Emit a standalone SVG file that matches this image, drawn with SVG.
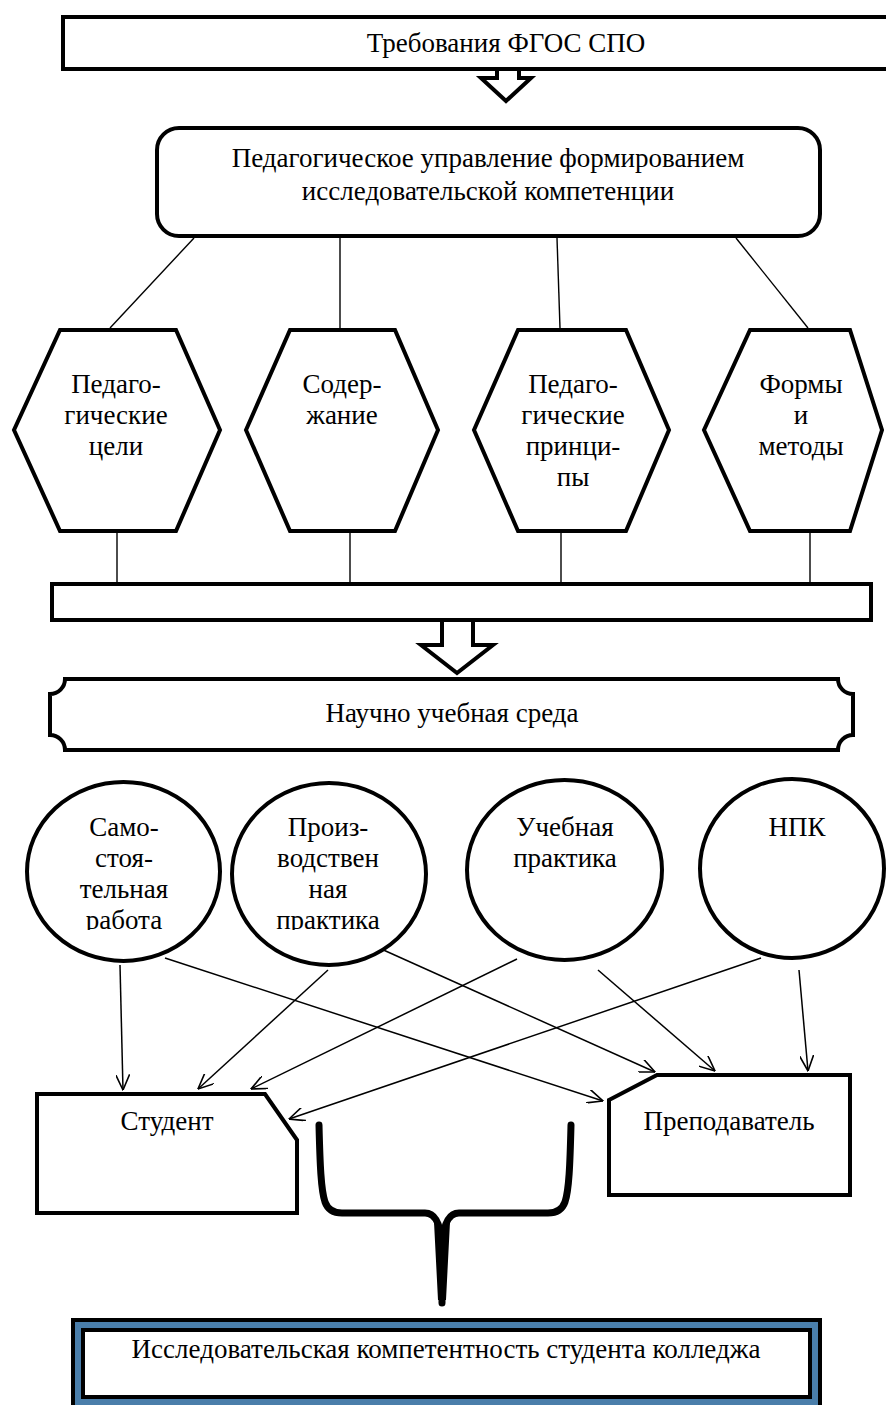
<svg xmlns="http://www.w3.org/2000/svg" width="886" height="1405" viewBox="0 0 886 1405" font-family="'Liberation Serif', 'DejaVu Serif', serif">
<style>
  text { font-family: 'Liberation Serif', 'DejaVu Serif', serif; font-size: 27px; fill: #000; text-anchor: middle; }
  .box { fill: #fff; stroke: #000; stroke-width: 4; stroke-linejoin: miter; }
  .thin { fill: none; stroke: #000; stroke-width: 1.4; }
  .arr { fill: none; stroke: #000; stroke-width: 1.5; marker-end: url(#v); }
</style>
<defs>
  <marker id="v" viewBox="0 0 16 14" refX="15.5" refY="7" markerWidth="16" markerHeight="14" markerUnits="userSpaceOnUse" orient="auto">
    <path d="M0,0 L15.5,7 L0,14" fill="none" stroke="#000" stroke-width="1.6"/>
  </marker>
  <clipPath id="cut"><rect x="0" y="0" width="886" height="930"/></clipPath>
</defs>
<rect width="886" height="1405" fill="#fff"/>

<g id="connectors">
  <path class="box" d="M497,69 V78 H481 L506,101 L531,78 H519 V69"/>
  <line class="thin" x1="194" y1="238" x2="110" y2="328"/>
  <line class="thin" x1="340" y1="238" x2="340" y2="328"/>
  <line class="thin" x1="557" y1="238" x2="560" y2="328"/>
  <line class="thin" x1="736" y1="238" x2="808" y2="328"/>
  <line class="thin" x1="117" y1="533" x2="117" y2="582"/>
  <line class="thin" x1="350" y1="533" x2="350" y2="582"/>
  <line class="thin" x1="561" y1="533" x2="561" y2="582"/>
  <line class="thin" x1="810" y1="533" x2="810" y2="582"/>
  <path class="box" d="M442,620 V645 H421 L457,673 L493,645 H473 V620"/>
  <line class="arr" x1="120" y1="965" x2="123" y2="1090"/>
  <line class="arr" x1="165" y1="958" x2="603" y2="1101"/>
  <line class="arr" x1="328" y1="970" x2="198" y2="1089"/>
  <line class="arr" x1="379" y1="948" x2="655" y2="1072"/>
  <line class="arr" x1="517" y1="959" x2="251" y2="1089"/>
  <line class="arr" x1="598" y1="970" x2="715" y2="1071"/>
  <line class="arr" x1="761" y1="958" x2="289" y2="1119"/>
  <line class="arr" x1="799" y1="970" x2="808" y2="1071"/>
  <path d="M319,1125 C320,1165 321,1190 325,1202 Q329,1213 342,1213 H425 Q440,1213 442,1245 V1303 M571,1125 C570,1165 569,1190 565,1202 Q561,1213 548,1213 H459 Q444,1213 442,1245" fill="none" stroke="#000" stroke-width="7" stroke-linecap="round" stroke-linejoin="round"/>
  <path d="M434,1222 Q442,1232 450,1222 L446,1300 L438,1300 Z" fill="#000"/>
</g>

<g id="fgos">
  <rect class="box" x="63" y="17" width="840" height="52"/>
  <text x="506" y="52">Требования ФГОС СПО</text>
</g>

<g id="upravlenie">
  <rect class="box" x="157" y="128" width="663" height="108" rx="22" ry="22"/>
  <text x="488" y="167">Педагогическое управление формированием</text>
  <text x="488" y="200">исследовательской компетенции</text>
</g>

<g id="hex-celi">
  <polygon class="box" points="60,330 176,330 220,430 176,531 60,531 14,430"/>
  <text x="116" y="393">Педаго-</text>
  <text x="116" y="424">гические</text>
  <text x="116" y="455">цели</text>
</g>
<g id="hex-soderzhanie">
  <polygon class="box" points="290,330 395,330 438,430 395,531 290,531 246,430"/>
  <text x="342" y="393">Содер-</text>
  <text x="342" y="424">жание</text>
</g>
<g id="hex-principy">
  <polygon class="box" points="518,330 626,330 669,430 626,531 518,531 474,430"/>
  <text x="573" y="393">Педаго-</text>
  <text x="573" y="424">гические</text>
  <text x="573" y="455">принци-</text>
  <text x="573" y="486">пы</text>
</g>
<g id="hex-formy">
  <polygon class="box" points="750,330 850,330 882,430 850,531 750,531 704,430"/>
  <text x="801" y="393">Формы</text>
  <text x="801" y="424">и</text>
  <text x="801" y="455">методы</text>
</g>

<g id="bar">
  <rect class="box" x="52" y="584" width="819" height="36"/>
</g>

<g id="sreda">
  <path class="box" d="M65,679 H838 A15,15 0 0 0 853,694 V735 A15,15 0 0 0 838,750 H65 A15,15 0 0 0 50,735 V694 A15,15 0 0 0 65,679 Z"/>
  <text x="452" y="722">Научно учебная среда</text>
</g>

<g id="ell-samost">
  <ellipse class="box" cx="123.5" cy="871.5" rx="96.5" ry="89.5"/>
  <text x="124" y="836">Само-</text>
  <text x="124" y="867">стоя-</text>
  <text x="124" y="898">тельная</text>
  <text x="124" y="929" clip-path="url(#cut)">работа</text>
</g>
<g id="ell-proizv">
  <ellipse class="box" cx="329" cy="874" rx="97" ry="91"/>
  <text x="328" y="836">Произ-</text>
  <text x="328" y="867">водствен</text>
  <text x="328" y="898">ная</text>
  <text x="328" y="929" clip-path="url(#cut)">практика</text>
</g>
<g id="ell-uchebnaya">
  <ellipse class="box" cx="564.5" cy="870" rx="97.5" ry="90"/>
  <text x="565" y="836">Учебная</text>
  <text x="565" y="867">практика</text>
</g>
<g id="ell-npk">
  <ellipse class="box" cx="792" cy="868.5" rx="92" ry="89.5"/>
  <text x="797" y="836">НПК</text>
</g>

<g id="student">
  <path class="box" d="M37,1094 H265 L297,1140 V1213 H37 Z"/>
  <text x="167" y="1130">Студент</text>
</g>
<g id="prepodavatel">
  <path class="box" d="M609,1100 L657,1075 H850 V1195 H609 Z"/>
  <text x="729" y="1130">Преподаватель</text>
</g>

<g id="kompetentnost">
  <rect x="71" y="1318" width="751" height="100" fill="#000"/>
  <rect x="75" y="1322" width="743" height="100" fill="#4A7EAA"/>
  <rect x="81" y="1328" width="731" height="71" fill="#000"/>
  <rect x="85" y="1332" width="723" height="63" fill="#fff"/>
  <text x="446" y="1358">Исследовательская компетентность студента колледжа</text>
</g>
</svg>
